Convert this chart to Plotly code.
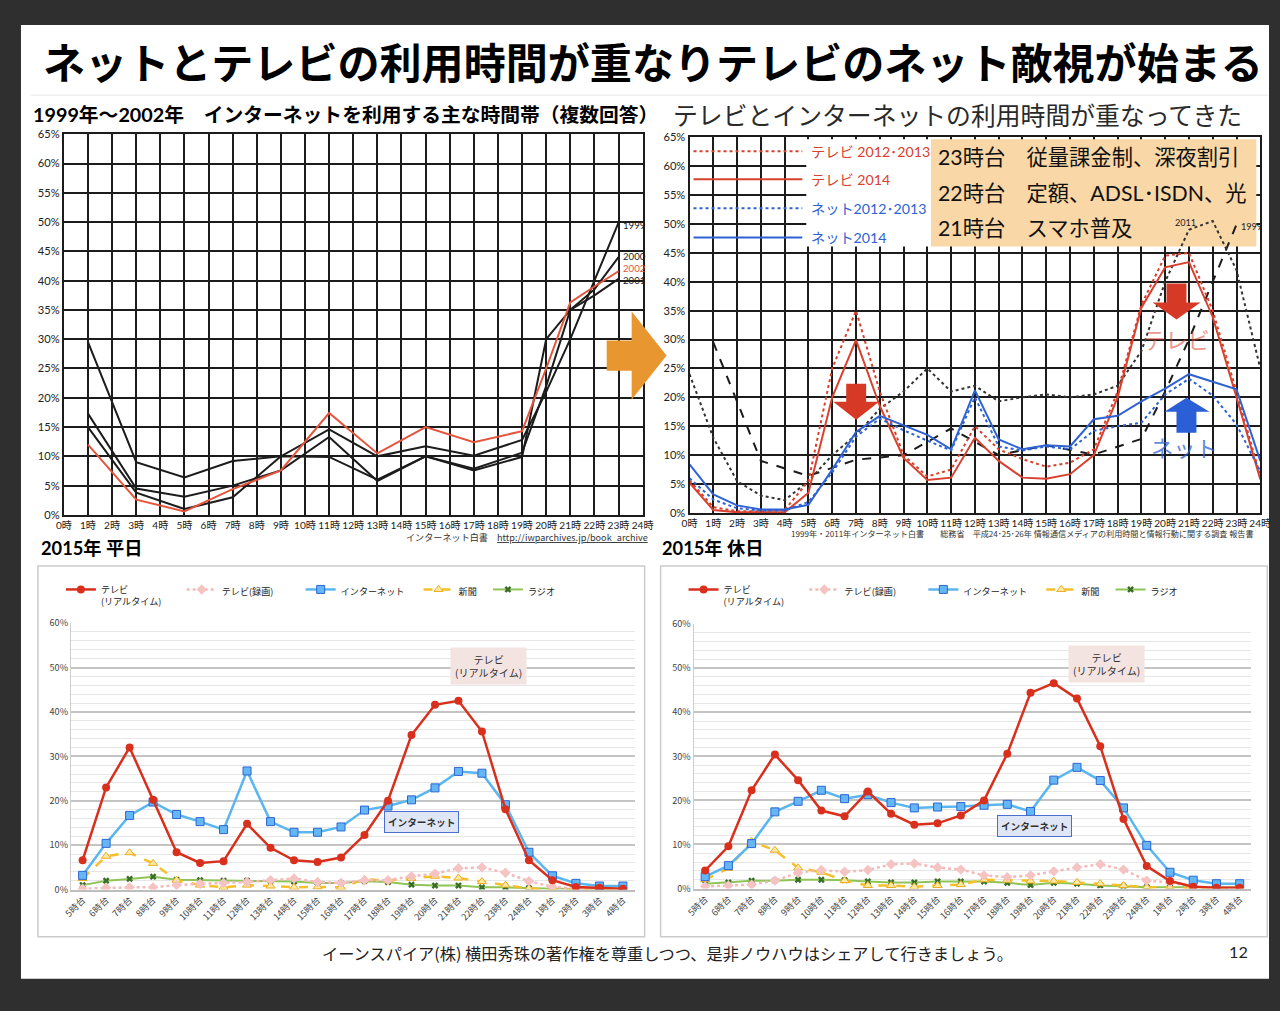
import plotly.graph_objects as go

# Calibration of the photographed page: screen = A + S * figure_pixel
W, H = 1280, 1011
A, SX, SY = 8.0, 0.9865, 0.9844
def px(x): return ((x - A) / SX) / W
def py(y): return 1 - ((y - A) / SY) / H
def fs(n): return round(n / SX, 2)

# ---------------- data ----------------
# top-left: 1999-2002 internet usage by hour (multiple answers)
tl_hours = [1, 3, 5, 7, 9, 11, 13, 15, 17, 19, 20, 21, 22, 23]
tl_1999 = [29.5, 9.0, 6.4, 9.2, 10.0, 14.6, 10.0, 11.7, 10.1, 12.8, 21.0, 30.0, 40.0, 49.9]
tl_2000 = [17.3, 4.5, 3.1, 5.0, 7.6, 13.3, 5.8, 10.0, 7.9, 10.6, 22.0, 35.0, 38.5, 44.0]
tl_2001 = [15.0, 3.8, 1.0, 3.0, 10.0, 9.9, 6.0, 10.0, 7.6, 9.9, 30.0, 35.0, 37.5, 40.3]
tl_2002 = [12.0, 2.6, 0.6, 4.4, 7.6, 17.4, 10.5, 15.0, 12.4, 14.3, 25.0, 36.3, 39.0, 41.6]

# top-right: TV vs internet by hour
tr_hours = list(range(25))
tr_tv_1213 = [5.6, 1.0, 0.3, 0.3, 0.5, 5.5, 25.0, 35.0, 21.0, 10.0, 6.3, 7.5, 15.0, 11.0, 9.3, 8.0,
              8.7, 11.0, 21.0, 36.0, 44.5, 45.0, 35.0, 21.0, 6.3]
tr_tv_2014 = [5.2, 0.5, 0.1, 0.1, 0.1, 3.5, 20.0, 29.9, 18.5, 9.5, 5.7, 6.1, 13.0, 9.0, 6.1, 5.9,
              6.7, 10.0, 20.0, 35.5, 42.5, 43.4, 33.9, 20.0, 5.8]
tr_net_1213 = [6.0, 2.3, 0.8, 0.4, 0.4, 1.9, 7.0, 13.2, 16.3, 14.3, 12.5, 10.8, 20.0, 11.5, 10.8, 11.5,
               11.0, 14.2, 15.0, 15.6, 20.5, 23.2, 20.3, 15.3, 7.2]
tr_net_2014 = [8.4, 3.2, 1.3, 0.6, 0.6, 1.4, 7.5, 14.0, 16.8, 15.2, 13.5, 11.0, 21.2, 12.7, 11.0, 11.7,
               11.5, 16.2, 16.8, 19.3, 21.5, 24.0, 22.7, 21.4, 9.0]
tr_2011 = [24.0, 13.0, 5.5, 3.0, 2.2, 5.5, 10.0, 13.5, 18.0, 21.0, 25.0, 21.0, 22.0, 19.3, 20.0, 20.5,
           20.0, 20.5, 22.0, 28.0, 40.0, 49.0, 50.5, 42.0, 25.0]
tr_legend_names = ["テレビ 2012･2013", "テレビ 2014", "ネット2012･2013", "ネット2014"]

# bottom: 2015 weekday / holiday
slots = ["5時台", "6時台", "7時台", "8時台", "9時台", "10時台", "11時台", "12時台", "13時台", "14時台",
         "15時台", "16時台", "17時台", "18時台", "19時台", "20時台", "21時台", "22時台", "23時台",
         "24時台", "1時台", "2時台", "3時台", "4時台"]
wd_tv = [6.6, 23.0, 32.0, 20.2, 8.4, 6.0, 6.4, 14.8, 9.4, 6.6, 6.2, 7.2, 12.3, 20.0, 34.8, 41.6,
         42.5, 35.6, 18.1, 6.6, 2.1, 0.6, 0.4, 0.2]
wd_rec = [0.2, 0.4, 0.5, 0.5, 1.0, 1.3, 1.5, 1.7, 2.1, 2.5, 1.7, 1.5, 2.1, 2.1, 3.0, 3.6,
          4.8, 5.0, 3.8, 1.9, 0.6, 0.2, 0.1, 0.1]
wd_net = [3.2, 10.4, 16.7, 19.7, 16.9, 15.3, 13.5, 26.7, 15.3, 12.9, 12.9, 14.1, 17.9, 18.8, 20.2, 22.9,
          26.6, 26.2, 19.1, 8.4, 3.1, 1.4, 0.8, 0.8]
wd_paper = [2.5, 7.5, 8.3, 5.9, 2.1, 1.0, 0.5, 1.0, 0.8, 0.5, 0.6, 0.5, 2.3, 2.1, 2.5, 3.0,
            2.6, 1.8, 1.0, 0.2, 0.1, 0.1, 0.0, 0.0]
wd_radio = [1.0, 2.0, 2.4, 2.9, 2.2, 2.1, 2.0, 2.0, 1.9, 1.8, 1.5, 1.5, 1.9, 1.7, 1.1, 0.9,
            0.9, 0.5, 0.5, 0.3, 0.2, 0.2, 0.2, 0.2]
hd_tv = [4.1, 9.6, 22.3, 30.4, 24.6, 17.7, 16.4, 22.0, 17.0, 14.5, 14.8, 16.6, 20.0, 30.6, 44.4, 46.6,
         43.1, 32.3, 15.8, 5.1, 1.7, 0.4, 0.2, 0.2]
hd_rec = [0.5, 0.7, 0.9, 1.8, 3.6, 4.2, 3.8, 4.2, 5.5, 5.7, 4.8, 4.3, 3.0, 2.6, 3.0, 3.9,
          4.8, 5.5, 4.3, 1.8, 1.4, 0.4, 0.2, 0.2]
hd_net = [2.7, 5.2, 10.2, 17.4, 19.8, 22.3, 20.4, 21.3, 19.5, 18.3, 18.5, 18.6, 18.9, 19.1, 17.5, 24.6,
          27.5, 24.5, 18.3, 9.8, 3.7, 1.9, 1.1, 1.1]
hd_paper = [2.0, 4.6, 10.7, 8.7, 4.7, 3.7, 1.8, 0.7, 0.7, 0.4, 0.7, 0.9, 2.0, 1.9, 1.7, 1.7,
            1.4, 1.1, 0.7, 0.3, 0.2, 0.1, 0.1, 0.1]
hd_radio = [1.1, 1.4, 1.8, 1.8, 2.0, 2.0, 1.9, 1.6, 1.4, 1.4, 1.6, 1.6, 1.6, 1.3, 0.8, 1.3,
            1.1, 0.7, 0.5, 0.3, 0.3, 0.3, 0.3, 0.3]
media_names = ["テレビ<br>(リアルタイム)", "テレビ(録画)", "インターネット", "新聞", "ラジオ"]
media_pad = ["　&nbsp;&nbsp;&nbsp;", "　　&nbsp;&nbsp;", "　", "&nbsp;&nbsp;&nbsp;", ""]

# ---------------- styles ----------------
DARK = "#2f2f2f"
LAT = "Lato, Noto Sans CJK JP, sans-serif"
JP = "Noto Sans CJK JP, sans-serif"
RED = "#d8412f"
BLUE = "#2f63d3"
BLK = "#1c1c1c"

TR_X0, TR_X1, TR_Y0, TR_Y1 = 690, 1262, 137, 512
def trx(p): return (p - TR_X0) / (TR_X1 - TR_X0) * 24
def try_(p): return (TR_Y1 - p) / (TR_Y1 - TR_Y0) * 65

fig = go.Figure()

for ys, col in [(tl_1999, BLK), (tl_2000, BLK), (tl_2001, BLK), (tl_2002, "#e4553c")]:
    fig.add_trace(go.Scatter(x=tl_hours, y=ys, mode="lines", line=dict(color=col, width=2),
                             xaxis="x", yaxis="y", showlegend=False, hoverinfo="skip"))

def box_trace(x0, x1, y0, y1, color):
    fig.add_trace(go.Scatter(x=[trx(x0), trx(x1), trx(x1), trx(x0), trx(x0)],
                             y=[try_(y1), try_(y1), try_(y0), try_(y0), try_(y1)],
                             mode="lines", fill="toself", fillcolor=color, line=dict(width=0, color=color),
                             xaxis="x2", yaxis="y2", showlegend=False, hoverinfo="skip"))
box_trace(932, 1258, 139, 246, "#f9d7a6")
box_trace(807, 932, 139, 246, "white")

fig.add_trace(go.Scatter(x=tl_hours, y=tl_1999, mode="lines", line=dict(color=BLK, width=2, dash="dash"),
                         xaxis="x2", yaxis="y2", showlegend=False))
fig.add_trace(go.Scatter(x=tr_hours, y=tr_2011, mode="lines", line=dict(color="#333", width=2, dash="dot"),
                         xaxis="x2", yaxis="y2", showlegend=False))
for ys, col, dash in [(tr_tv_1213, RED, "dot"), (tr_tv_2014, RED, "solid"),
                      (tr_net_1213, BLUE, "dot"), (tr_net_2014, BLUE, "solid")]:
    fig.add_trace(go.Scatter(x=tr_hours, y=ys, mode="lines", line=dict(color=col, width=2, dash=dash),
                             xaxis="x2", yaxis="y2", showlegend=False))

def media_traces(tv, rec, net, paper, radio, xa, ya, leg):
    specs = [
        (radio, 5, dict(color="#8fc457", width=2), dict(symbol="x", size=6, color="#3a6d28")),
        (paper, 4, dict(color="#f5c02c", width=2.5, dash="dash"),
         dict(symbol="triangle-up", size=8, color="#fde9a6", line=dict(color="#eeac1c", width=1))),
        (rec, 2, dict(color="#f5b9b9", width=2.5, dash="dot"),
         dict(symbol="diamond", size=8, color="#f6c3c3")),
        (net, 3, dict(color="#5ab6ee", width=2.5),
         dict(symbol="square", size=8, color="#65b6f4", line=dict(color="#2d66d4", width=1))),
        (tv, 1, dict(color="#d9301e", width=2.5), dict(symbol="circle", size=8, color="#d9301e")),
    ]
    for ys, rank, ln, mk in specs:
        fig.add_trace(go.Scatter(x=slots, y=ys, mode="lines+markers", line=ln, marker=mk,
                                 name=media_names[rank - 1] + media_pad[rank - 1], legendrank=rank,
                                 legend=leg, xaxis=xa, yaxis=ya))

media_traces(wd_tv, wd_rec, wd_net, wd_paper, wd_radio, "x3", "y3", "legend")
media_traces(hd_tv, hd_rec, hd_net, hd_paper, hd_radio, "x4", "y4", "legend2")

def top_axes(x0, x1, y0, y1):
    xa = dict(domain=[px(x0), px(x1)], range=[0, 24], tickmode="array", tickvals=list(range(25)),
              ticktext=[f"{h}時" for h in range(25)], tickangle=0, showgrid=True, gridcolor=BLK, gridwidth=2,
              showline=True, linecolor=BLK, linewidth=2, mirror=True, zeroline=False,
              tickfont=dict(family=LAT, size=fs(10), color="#222"), ticks="", fixedrange=True)
    ya = dict(domain=[py(y1), py(y0)], range=[0, 65], tickmode="array", tickvals=list(range(0, 66, 5)),
              ticktext=[f"{v}%" for v in range(0, 66, 5)], showgrid=True, gridcolor=BLK, gridwidth=2,
              showline=True, linecolor=BLK, linewidth=2, mirror=True, zeroline=False,
              tickfont=dict(family=LAT, size=fs(11), color="#222"), ticks="", fixedrange=True)
    return xa, ya

def bottom_axes(x0, x1, y0, y1):
    xa = dict(domain=[px(x0), px(x1)], type="category", range=[-0.5, 23.5], tickangle=-45,
              showgrid=False, showline=True, linecolor="#bdbdbd", linewidth=1.5, zeroline=False,
              tickfont=dict(family=JP, size=fs(9), color="#444"), ticks="", fixedrange=True)
    ya = dict(domain=[py(y1), py(y0)], range=[0, 60], tickmode="array", tickvals=list(range(0, 61, 10)),
              ticktext=[f"{v}%" for v in range(0, 61, 10)], showgrid=True, gridcolor="#c4c4c4", gridwidth=1.5,
              minor=dict(dtick=2, showgrid=True, gridcolor="#e6e6e6", gridwidth=1),
              showline=True, linecolor="#cfcfcf", linewidth=1, zeroline=False,
              tickfont=dict(family=JP, size=fs(9), color="#444"), ticks="", fixedrange=True)
    return xa, ya

xa1, ya1 = top_axes(63, 643, 134, 514)
xa2, ya2 = top_axes(TR_X0, TR_X1, TR_Y0, TR_Y1)
xa3, ya3 = bottom_axes(70, 635, 622, 888)
xa4, ya4 = bottom_axes(694, 1253, 623, 887)

fig.update_layout(
    width=W, height=H, margin=dict(l=0, r=0, t=0, b=0), autosize=False,
    paper_bgcolor=DARK, plot_bgcolor="white",
    xaxis={**xa1, "anchor": "y"}, yaxis={**ya1, "anchor": "x"},
    xaxis2={**xa2, "anchor": "y2"}, yaxis2={**ya2, "anchor": "x2"},
    xaxis3={**xa3, "anchor": "y3"}, yaxis3={**ya3, "anchor": "x3"},
    xaxis4={**xa4, "anchor": "y4"}, yaxis4={**ya4, "anchor": "x4"},
    legend=dict(orientation="h", x=px(60), y=py(576), xanchor="left", yanchor="top",
                font=dict(family=JP, size=fs(9), color="#222"), valign="top",
                bgcolor="rgba(0,0,0,0)", traceorder="normal"),
    legend2=dict(orientation="h", x=px(684), y=py(576), xanchor="left", yanchor="top",
                 font=dict(family=JP, size=fs(9), color="#222"), valign="top",
                 bgcolor="rgba(0,0,0,0)", traceorder="normal"),
    hovermode=False,
)

shapes = []
shapes.append(dict(type="rect", xref="paper", yref="paper", x0=px(20), x1=1, y0=py(977), y1=py(25),
                   fillcolor="white", line=dict(width=0), layer="below"))
shapes.append(dict(type="line", xref="paper", yref="paper", x0=px(30), x1=px(1270), y0=py(95), y1=py(95),
                   line=dict(color="#e6e6e6", width=1), layer="below"))
for x0, x1 in [(37, 645), (661, 1269)]:
    shapes.append(dict(type="rect", xref="paper", yref="paper", x0=px(x0), x1=px(x1), y0=py(935), y1=py(565),
                       fillcolor="rgba(0,0,0,0)", line=dict(color="#cbcbcb", width=1.5), layer="below"))
for yy, col, dash in [(151, RED, "dot"), (179, RED, "solid"), (208, BLUE, "dot"), (237, BLUE, "solid")]:
    shapes.append(dict(type="line", xref="paper", yref="paper", x0=px(694), x1=px(803), y0=py(yy), y1=py(yy),
                       line=dict(color=col, width=2, dash=dash), layer="above"))

def poly(pts, color):
    d = "M " + " L ".join(f"{px(x):.5f},{py(y):.5f}" for x, y in pts) + " Z"
    return dict(type="path", xref="paper", yref="paper", path=d, fillcolor=color,
                line=dict(width=0), layer="above")

shapes.append(poly([(607, 340), (632, 340), (632, 311), (667, 355), (632, 399), (632, 370), (607, 370)], "#e8962f"))
shapes.append(poly([(847, 383), (867, 383), (867, 401), (880, 401), (857, 419), (834, 401), (847, 401)], "#d63a26"))
shapes.append(poly([(1168, 283), (1188, 283), (1188, 302), (1202, 302), (1178, 319), (1154, 302), (1168, 302)], "#d63a26"))
shapes.append(poly([(1188, 397), (1211, 411), (1198, 411), (1198, 432), (1178, 432), (1178, 411), (1166, 411)], "#2a5fd6"))
fig.update_layout(shapes=shapes)

ann = []
def text(x, y, s, size, color="#111", family=JP, xanchor="left", **kw):
    ann.append(dict(x=px(x), y=py(y), xref="paper", yref="paper", text=s, showarrow=False,
                    xanchor=xanchor, yanchor="middle", font=dict(family=family, size=fs(size), color=color), **kw))

text(653, 60, "<b>ネットとテレビの利用時間が重なりテレビのネット敵視が始まる</b>", 41.5, "#000", xanchor="center")
text(30, 114, "<b>1999年～2002年　インターネットを利用する主な時間帯（複数回答）</b>", 19.5, "#000", family=LAT)
text(671, 114, "テレビとインターネットの利用時間が重なってきた", 24.5, "#2a2a2a")
text(38, 547, "<b>2015年 平日</b>", 18, "#000", family=LAT)
text(660, 547, "<b>2015年 休日</b>", 18, "#000", family=LAT)

for lbl, yy, col in [("1999", 225, BLK), ("2000", 256, BLK), ("2002", 268, "#e4553c"), ("2001", 280, BLK)]:
    text(621, yy, lbl, 9.5, col, family=LAT)
text(650, 536, "インターネット白書　<u>http://iwparchives.jp/book_archive</u>", 9, "#333", xanchor="right")

text(1187, 222, "2011", 9, "#222", family=LAT, xanchor="center")
text(1253, 226, "1999", 9, "#222", family=LAT, xanchor="center")
for s, yy, col in zip(tr_legend_names, [151, 179, 208, 237], [RED, RED, BLUE, BLUE]):
    text(810, yy, s, 14, col, family=LAT)
for s, yy in [("23時台　従量課金制、深夜割引", 157), ("22時台　定額、ADSL･ISDN、光", 193), ("21時台　スマホ普及", 228)]:
    text(937, yy, s, 21, "#111", family=LAT)
text(1178, 338, "テレビ", 22, "rgba(216,65,47,0.55)", xanchor="center")
text(1186, 446, "ネット", 22, "rgba(47,99,211,0.75)", xanchor="center")
text(1258, 533, "1999年・2011年インターネット白書　　総務省　平成24･25･26年 情報通信メディアの利用時間と情報行動に関する調査 報告書",
     8, "#333", xanchor="right")

for cx, cy in [(489, 665), (1108, 663)]:
    text(cx, cy, "テレビ<br>(リアルタイム)", 10, "#333", xanchor="center", bgcolor="#f3e3e1", borderpad=4)
for cx, cy in [(421, 821), (1036, 825)]:
    text(cx, cy, "<b>インターネット</b>", 9.5, "#333", xanchor="center", bgcolor="#dfe6f6",
         bordercolor="#4a6fd0", borderwidth=1, borderpad=3)

text(668, 951, "イーンスパイア(株) 横田秀珠の著作権を尊重しつつ、是非ノウハウはシェアして行きましょう。", 16, "#222", xanchor="center")
text(1240, 950, "12", 16, "#222", family=LAT, xanchor="center")

fig.update_layout(annotations=ann)

fig.write_html("out.html", config={"displayModeBar": False, "responsive": False},
               post_script="document.documentElement.style.margin='0';document.body.style.margin='0';"
                           "document.body.style.padding='0';document.body.style.overflow='hidden';"
                           "document.documentElement.style.background='#2f2f2f';"
                           "document.body.style.background='#2f2f2f';")
